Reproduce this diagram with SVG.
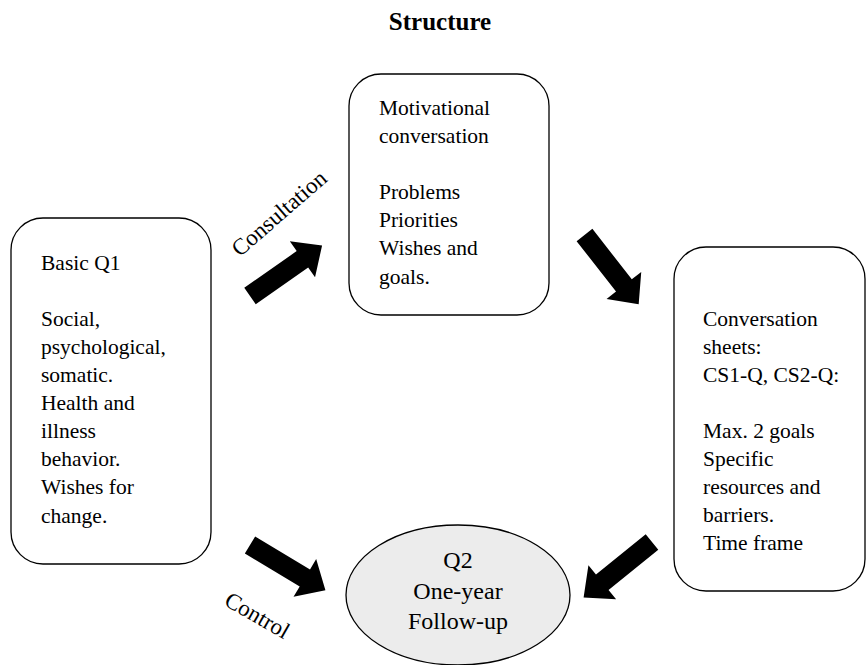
<svg xmlns="http://www.w3.org/2000/svg" width="867" height="665" viewBox="0 0 867 665">
  <style>
    .box { fill: #ffffff; stroke: #000000; stroke-width: 1.3; }
    .oval { fill: #ececec; stroke: #000000; stroke-width: 1.3; }
    .txt { font-family: "Liberation Serif", "Times New Roman", serif; font-size: 21.5px; fill: #000000; }
    .big { font-family: "Liberation Serif", "Times New Roman", serif; font-size: 24px; fill: #000000; text-anchor: middle; }
    .lbl { font-family: "Liberation Serif", "Times New Roman", serif; font-size: 23px; fill: #000000; text-anchor: middle; }
    .title { font-family: "Liberation Serif", "Times New Roman", serif; font-size: 25px; font-weight: bold; fill: #000000; text-anchor: middle; }
    .arrow { fill: #000000; }
  </style>
  <defs>
    <!-- block arrow, tail centred at the origin, pointing along +x -->
    <path id="block-arrow" d="M0,-10 L64,-10 L64,-22 L88,0 L64,22 L64,10 L0,10 Z"/>
  </defs>

  <text class="title" x="440" y="30">Structure</text>

  <g id="basic-q1">
    <rect class="box" x="11" y="218" width="200" height="346" rx="32" ry="32"/>
    <text class="txt" x="41" y="270">Basic Q1</text>
    <text class="txt" x="41" y="326">Social,</text>
    <text class="txt" x="41" y="354">psychological,</text>
    <text class="txt" x="41" y="382">somatic.</text>
    <text class="txt" x="41" y="410">Health and</text>
    <text class="txt" x="41" y="438">illness</text>
    <text class="txt" x="41" y="466">behavior.</text>
    <text class="txt" x="41" y="494">Wishes for</text>
    <text class="txt" x="41" y="523">change.</text>
  </g>

  <g id="motivational-conversation">
    <rect class="box" x="349" y="74" width="200" height="241" rx="32" ry="32"/>
    <text class="txt" x="379" y="115">Motivational</text>
    <text class="txt" x="379" y="143">conversation</text>
    <text class="txt" x="379" y="199">Problems</text>
    <text class="txt" x="379" y="227">Priorities</text>
    <text class="txt" x="379" y="255">Wishes and</text>
    <text class="txt" x="379" y="284">goals.</text>
  </g>

  <g id="conversation-sheets">
    <rect class="box" x="674" y="247" width="191" height="344" rx="32" ry="32"/>
    <text class="txt" x="703" y="326">Conversation</text>
    <text class="txt" x="703" y="354">sheets:</text>
    <text class="txt" x="703" y="382">CS1-Q, CS2-Q:</text>
    <text class="txt" x="703" y="438">Max. 2 goals</text>
    <text class="txt" x="703" y="466">Specific</text>
    <text class="txt" x="703" y="494">resources and</text>
    <text class="txt" x="703" y="522">barriers.</text>
    <text class="txt" x="703" y="550">Time frame</text>
  </g>

  <g id="q2-follow-up">
    <ellipse class="oval" cx="458" cy="595" rx="112" ry="70"/>
    <text class="big" x="458" y="568">Q2</text>
    <text class="big" x="458" y="599">One-year</text>
    <text class="big" x="458" y="629">Follow-up</text>
  </g>

  <g id="connectors">
    <use class="arrow" href="#block-arrow" transform="translate(250,296) rotate(-35)"/>
    <use class="arrow" href="#block-arrow" transform="translate(584.5,235) rotate(52)"/>
    <use class="arrow" href="#block-arrow" transform="translate(250,545) rotate(31)"/>
    <use class="arrow" href="#block-arrow" transform="translate(652,542) rotate(141)"/>
    <text class="lbl" transform="translate(284,219) rotate(-41)">Consultation</text>
    <text class="lbl" transform="translate(253.5,622) rotate(30)">Control</text>
  </g>
</svg>
